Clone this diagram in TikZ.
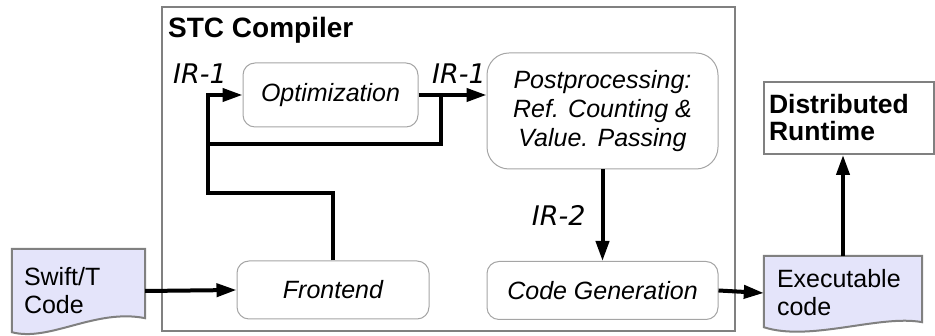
\documentclass[tikz,border=0pt]{standalone}
\usepackage{fontspec}
\setmainfont{Liberation Sans}
\newfontfamily\irfont{DejaVu Sans Oblique}
\usetikzlibrary{arrows.meta,backgrounds}
\definecolor{stcgray}{RGB}{128,128,128}
\definecolor{stclight}{RGB}{165,165,165}
\definecolor{stcdoc}{RGB}{228,228,250}

\begin{document}
\begin{tikzpicture}[x=1pt,y=1pt,
    box/.style={draw=stclight,line width=1pt,rounded corners=12pt,align=center,inner sep=0pt,font=\fontsize{25}{29}\selectfont\itshape},
    doc/.style={inner xsep=12pt,inner ysep=0pt,align=left,font=\fontsize{25}{28}\selectfont},
    docshape/.style={draw=stcgray,line width=2pt,fill=stcdoc},
    flow/.style={line width=4pt,-{Triangle[length=20pt,width=13pt]}},
    link/.style={line width=4pt},
    irlabel/.style={inner sep=0pt,font=\fontsize{27}{27}\selectfont\irfont}]
  \useasboundingbox (0,0) rectangle (935,336);
  % Compiler frame
  \node[draw=stcgray,line width=2pt,minimum width=573pt,minimum height=324pt,inner sep=0pt] (stc) at (448.5,167) {};
  \node[anchor=base west,inner sep=0pt,font=\fontsize{28}{28}\selectfont\bfseries] (title) at (168,298) {STC Compiler};
  % Compiler stages
  \node[box,minimum width=175pt,minimum height=64pt] (opt) at (330.5,241) {Optimization};
  \node[box,rounded corners=22pt,minimum width=231pt,minimum height=116pt] (post) at (602.5,225)
       {Postprocessing:\\Ref. Counting \&\\ Value. Passing};
  \node[box,minimum width=192pt,minimum height=58pt] (fe) at (333,46) {Frontend};
  \node[box,minimum width=231pt,minimum height=58pt] (cg) at (602.5,45.5) {Code Generation};
  % Input, output and runtime
  \node[doc,text width=109pt,minimum height=84pt] (swift) at (78.5,45) {Swift/T\\Code};
  \node[doc,inner xsep=13pt,text width=132pt,minimum height=74pt] (exe) at (843,43) {Executable\\code};
  \node[draw=stcgray,line width=2pt,align=left,inner xsep=5pt,text width=160pt,minimum height=72pt,
        font=\fontsize{26.5}{27}\selectfont\bfseries] (rt) at (849,218) {Distributed\\Runtime};
  \begin{scope}[on background layer]
    \path[docshape] (swift.north west) -- (swift.north east) -- ([yshift=15pt]swift.south east)
         .. controls +(-50,10) and +(38,-10) .. ([yshift=1pt]swift.south west) -- cycle;
    \path[docshape] (exe.north west) -- (exe.north east) -- ([yshift=8pt]exe.south east)
         .. controls +(-42,8) and +(46,-15) .. ([yshift=3pt]exe.south west) -- cycle;
  \end{scope}
  % IR labels
  \node[irlabel] (irA) at (200,262) {IR-1};
  \node[irlabel] (irB) at (459,262) {IR-1};
  % Loop coordinates
  \coordinate (loopL) at (208,143);
  \coordinate (loopM) at (208,192);
  \coordinate (split) at (441,241);
  % Connectors
  \draw[flow] (swift.east) -- (fe.west);
  \draw[flow] (fe.north) |- (loopL) |- (opt.west);
  \draw[flow] (opt.east) -- (opt.east -| post.west);
  \draw[link] (split) |- (loopM);
  \draw[flow] (post.south) -- (cg.north) node[irlabel,midway,left=15pt] (irC) {IR-2};
  \draw[flow] (cg.east) -- (exe.west);
  \draw[flow] (exe.north) -- (exe.north |- rt.south);
\end{tikzpicture}
\end{document}
